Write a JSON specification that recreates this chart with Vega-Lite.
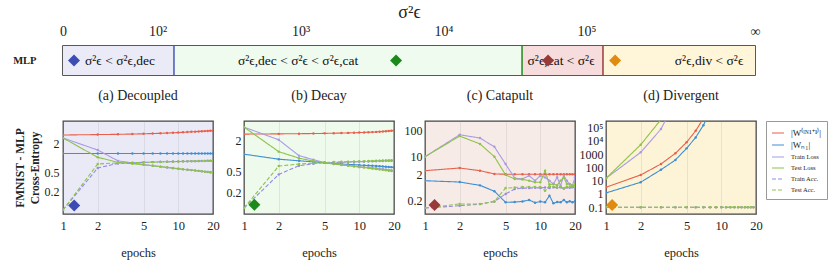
{
  "$schema": "https://vega.github.io/schema/vega-lite/v6.json",
  "padding": {"left": 11, "top": 2, "right": 4, "bottom": 4},
  "background": "white",
  "config": {
    "font": "Liberation Serif",
    "view": {"stroke": null},
    "axis": {"labelFont": "Liberation Serif", "titleFont": "Liberation Serif", "labelColor": "#222", "titleColor": "#222", "domain": false, "ticks": false, "grid": false},
    "title": {"font": "Liberation Serif", "fontWeight": "normal", "fontSize": 14, "color": "#222"},
    "text": {"font": "Liberation Serif"}
  },
  "datasets": {
    "regimes": [
      {"model": "MLP", "regime": "decoupled", "from": 1.339, "to": 2.115, "text_at": 1.738, "marker_at": 1.416, "label": "σ²ϵ < σ²ϵ,dec"},
      {"model": "MLP", "regime": "decay", "from": 2.115, "to": 4.549, "text_at": 2.983, "marker_at": 3.668, "label": "σ²ϵ,dec < σ²ϵ < σ²ϵ,cat"},
      {"model": "MLP", "regime": "catapult", "from": 4.549, "to": 5.115, "text_at": 4.822, "marker_at": 4.731, "label": "σ²ϵ,cat < σ²ϵ"},
      {"model": "MLP", "regime": "divergent", "from": 5.115, "to": 6.178, "text_at": 5.857, "marker_at": 5.2, "label": "σ²ϵ,div < σ²ϵ"}
    ],
    "curves": [
      {"panel":"a","epoch":1,"W_next":3.00,"W_N1":1.23,"train_loss":2.60,"test_loss":2.60,"train_acc":0.08,"test_acc":0.08},
      {"panel":"a","epoch":2,"W_next":3.06,"W_N1":1.23,"train_loss":1.45,"test_loss":1.02,"train_acc":0.61,"test_acc":0.74},
      {"panel":"a","epoch":3,"W_next":3.10,"W_N1":1.23,"train_loss":0.86,"test_loss":0.80,"train_acc":0.76,"test_acc":0.78},
      {"panel":"a","epoch":4,"W_next":3.14,"W_N1":1.23,"train_loss":0.78,"test_loss":0.75,"train_acc":0.78,"test_acc":0.79},
      {"panel":"a","epoch":5,"W_next":3.18,"W_N1":1.23,"train_loss":0.72,"test_loss":0.71,"train_acc":0.80,"test_acc":0.80},
      {"panel":"a","epoch":6,"W_next":3.22,"W_N1":1.23,"train_loss":0.68,"test_loss":0.68,"train_acc":0.81,"test_acc":0.81},
      {"panel":"a","epoch":7,"W_next":3.26,"W_N1":1.23,"train_loss":0.65,"test_loss":0.65,"train_acc":0.82,"test_acc":0.815},
      {"panel":"a","epoch":8,"W_next":3.30,"W_N1":1.23,"train_loss":0.62,"test_loss":0.63,"train_acc":0.825,"test_acc":0.82},
      {"panel":"a","epoch":9,"W_next":3.34,"W_N1":1.23,"train_loss":0.60,"test_loss":0.61,"train_acc":0.83,"test_acc":0.825},
      {"panel":"a","epoch":10,"W_next":3.38,"W_N1":1.23,"train_loss":0.585,"test_loss":0.59,"train_acc":0.835,"test_acc":0.83},
      {"panel":"a","epoch":11,"W_next":3.42,"W_N1":1.23,"train_loss":0.57,"test_loss":0.575,"train_acc":0.84,"test_acc":0.835},
      {"panel":"a","epoch":12,"W_next":3.46,"W_N1":1.23,"train_loss":0.56,"test_loss":0.56,"train_acc":0.845,"test_acc":0.84},
      {"panel":"a","epoch":13,"W_next":3.50,"W_N1":1.23,"train_loss":0.55,"test_loss":0.55,"train_acc":0.85,"test_acc":0.84},
      {"panel":"a","epoch":14,"W_next":3.53,"W_N1":1.23,"train_loss":0.54,"test_loss":0.54,"train_acc":0.85,"test_acc":0.845},
      {"panel":"a","epoch":15,"W_next":3.56,"W_N1":1.23,"train_loss":0.53,"test_loss":0.53,"train_acc":0.855,"test_acc":0.85},
      {"panel":"a","epoch":16,"W_next":3.59,"W_N1":1.23,"train_loss":0.52,"test_loss":0.52,"train_acc":0.86,"test_acc":0.85},
      {"panel":"a","epoch":17,"W_next":3.62,"W_N1":1.23,"train_loss":0.51,"test_loss":0.51,"train_acc":0.86,"test_acc":0.855},
      {"panel":"a","epoch":18,"W_next":3.65,"W_N1":1.23,"train_loss":0.505,"test_loss":0.50,"train_acc":0.865,"test_acc":0.86},
      {"panel":"a","epoch":19,"W_next":3.68,"W_N1":1.23,"train_loss":0.50,"test_loss":0.49,"train_acc":0.865,"test_acc":0.86},
      {"panel":"a","epoch":20,"W_next":3.70,"W_N1":1.23,"train_loss":0.49,"test_loss":0.48,"train_acc":0.87,"test_acc":0.86},
      {"panel":"b","epoch":1,"W_next":2.67,"W_N1":1.09,"train_loss":3.65,"test_loss":3.65,"train_acc":0.098,"test_acc":0.098},
      {"panel":"b","epoch":2,"W_next":2.70,"W_N1":0.87,"train_loss":2.07,"test_loss":1.22,"train_acc":0.44,"test_acc":0.64},
      {"panel":"b","epoch":3,"W_next":2.72,"W_N1":0.81,"train_loss":1.02,"test_loss":0.91,"train_acc":0.65,"test_acc":0.70},
      {"panel":"b","epoch":4,"W_next":2.74,"W_N1":0.77,"train_loss":0.85,"test_loss":0.80,"train_acc":0.71,"test_acc":0.73},
      {"panel":"b","epoch":5,"W_next":2.76,"W_N1":0.74,"train_loss":0.75,"test_loss":0.74,"train_acc":0.74,"test_acc":0.75},
      {"panel":"b","epoch":6,"W_next":2.78,"W_N1":0.72,"train_loss":0.71,"test_loss":0.70,"train_acc":0.75,"test_acc":0.765},
      {"panel":"b","epoch":7,"W_next":2.80,"W_N1":0.70,"train_loss":0.68,"test_loss":0.67,"train_acc":0.76,"test_acc":0.775},
      {"panel":"b","epoch":8,"W_next":2.82,"W_N1":0.69,"train_loss":0.66,"test_loss":0.65,"train_acc":0.765,"test_acc":0.78},
      {"panel":"b","epoch":9,"W_next":2.84,"W_N1":0.68,"train_loss":0.64,"test_loss":0.63,"train_acc":0.77,"test_acc":0.785},
      {"panel":"b","epoch":10,"W_next":2.86,"W_N1":0.67,"train_loss":0.62,"test_loss":0.61,"train_acc":0.775,"test_acc":0.79},
      {"panel":"b","epoch":11,"W_next":2.88,"W_N1":0.66,"train_loss":0.61,"test_loss":0.60,"train_acc":0.78,"test_acc":0.795},
      {"panel":"b","epoch":12,"W_next":2.90,"W_N1":0.655,"train_loss":0.60,"test_loss":0.585,"train_acc":0.785,"test_acc":0.80},
      {"panel":"b","epoch":13,"W_next":2.92,"W_N1":0.65,"train_loss":0.59,"test_loss":0.57,"train_acc":0.79,"test_acc":0.805},
      {"panel":"b","epoch":14,"W_next":2.95,"W_N1":0.64,"train_loss":0.58,"test_loss":0.56,"train_acc":0.795,"test_acc":0.81},
      {"panel":"b","epoch":15,"W_next":2.98,"W_N1":0.635,"train_loss":0.57,"test_loss":0.55,"train_acc":0.80,"test_acc":0.815},
      {"panel":"b","epoch":16,"W_next":3.01,"W_N1":0.63,"train_loss":0.56,"test_loss":0.54,"train_acc":0.805,"test_acc":0.82},
      {"panel":"b","epoch":17,"W_next":3.04,"W_N1":0.62,"train_loss":0.55,"test_loss":0.53,"train_acc":0.81,"test_acc":0.82},
      {"panel":"b","epoch":18,"W_next":3.07,"W_N1":0.615,"train_loss":0.54,"test_loss":0.52,"train_acc":0.81,"test_acc":0.825},
      {"panel":"b","epoch":19,"W_next":3.10,"W_N1":0.61,"train_loss":0.53,"test_loss":0.515,"train_acc":0.815,"test_acc":0.83},
      {"panel":"b","epoch":20,"W_next":3.13,"W_N1":0.60,"train_loss":0.52,"test_loss":0.51,"train_acc":0.82,"test_acc":0.83},
      {"panel":"c","epoch":1,"W_next":2.9,"W_N1":1.19,"train_loss":10,"test_loss":10,"train_acc":0.106,"test_acc":0.106},
      {"panel":"c","epoch":2,"W_next":3.67,"W_N1":1.06,"train_loss":70,"test_loss":62,"train_acc":0.13,"test_acc":0.152},
      {"panel":"c","epoch":3,"W_next":2.9,"W_N1":0.79,"train_loss":52,"test_loss":31,"train_acc":0.15,"test_acc":0.152},
      {"panel":"c","epoch":4,"W_next":2.16,"W_N1":0.47,"train_loss":24,"test_loss":10,"train_acc":0.19,"test_acc":0.19},
      {"panel":"c","epoch":5,"W_next":2.12,"W_N1":0.176,"train_loss":5.2,"test_loss":2.0,"train_acc":0.37,"test_acc":0.62},
      {"panel":"c","epoch":6,"W_next":2.1,"W_N1":0.18,"train_loss":1.5,"test_loss":1.39,"train_acc":0.57,"test_acc":0.65},
      {"panel":"c","epoch":7,"W_next":2.1,"W_N1":0.19,"train_loss":1.4,"test_loss":1.33,"train_acc":0.62,"test_acc":0.68},
      {"panel":"c","epoch":8,"W_next":2.1,"W_N1":0.216,"train_loss":1.86,"test_loss":1.2,"train_acc":0.62,"test_acc":0.68},
      {"panel":"c","epoch":9,"W_next":2.1,"W_N1":0.17,"train_loss":1.2,"test_loss":1.04,"train_acc":0.64,"test_acc":0.68},
      {"panel":"c","epoch":10,"W_next":2.1,"W_N1":0.19,"train_loss":1.86,"test_loss":1.04,"train_acc":0.63,"test_acc":0.68},
      {"panel":"c","epoch":11,"W_next":2.1,"W_N1":0.176,"train_loss":1.6,"test_loss":2.9,"train_acc":0.65,"test_acc":0.49},
      {"panel":"c","epoch":12,"W_next":2.1,"W_N1":0.316,"train_loss":1.2,"test_loss":0.85,"train_acc":0.62,"test_acc":0.72},
      {"panel":"c","epoch":13,"W_next":2.1,"W_N1":0.161,"train_loss":0.89,"test_loss":0.89,"train_acc":0.66,"test_acc":0.70},
      {"panel":"c","epoch":14,"W_next":2.1,"W_N1":0.18,"train_loss":1.61,"test_loss":0.80,"train_acc":0.64,"test_acc":0.66},
      {"panel":"c","epoch":15,"W_next":2.1,"W_N1":0.176,"train_loss":0.77,"test_loss":1.2,"train_acc":0.66,"test_acc":0.70},
      {"panel":"c","epoch":16,"W_next":2.1,"W_N1":0.216,"train_loss":1.86,"test_loss":1.6,"train_acc":0.60,"test_acc":0.60},
      {"panel":"c","epoch":17,"W_next":2.1,"W_N1":0.176,"train_loss":1.19,"test_loss":0.89,"train_acc":0.66,"test_acc":0.70},
      {"panel":"c","epoch":18,"W_next":2.1,"W_N1":0.193,"train_loss":0.85,"test_loss":0.89,"train_acc":0.64,"test_acc":0.68},
      {"panel":"c","epoch":19,"W_next":2.1,"W_N1":0.176,"train_loss":0.77,"test_loss":0.77,"train_acc":0.66,"test_acc":0.70},
      {"panel":"c","epoch":20,"W_next":2.1,"W_N1":0.193,"train_loss":1.61,"test_loss":0.85,"train_acc":0.65,"test_acc":0.68},
      {"panel":"d","epoch":1,"W_next":3.2,"W_N1":1.19,"train_loss":15,"test_loss":15,"train_acc":0.1,"test_acc":0.1},
      {"panel":"d","epoch":2,"W_next":27,"W_N1":7.6,"train_loss":1360,"test_loss":5100,"train_acc":0.1,"test_acc":0.1},
      {"panel":"d","epoch":3,"W_next":180,"W_N1":67,"train_loss":77000,"test_loss":400000,"train_acc":0.1,"test_acc":0.1},
      {"panel":"d","epoch":4,"W_next":1150,"W_N1":360,"train_loss":10000000,"test_loss":null,"train_acc":0.1,"test_acc":0.1},
      {"panel":"d","epoch":5,"W_next":7800,"W_N1":2700,"train_loss":null,"test_loss":null,"train_acc":0.1,"test_acc":0.1},
      {"panel":"d","epoch":6,"W_next":57000,"W_N1":18000,"train_loss":null,"test_loss":null,"train_acc":0.1,"test_acc":0.1},
      {"panel":"d","epoch":7,"W_next":500000,"W_N1":150000,"train_loss":null,"test_loss":null,"train_acc":0.1,"test_acc":0.1},
      {"panel":"d","epoch":8,"W_next":null,"W_N1":1500000,"train_loss":null,"test_loss":null,"train_acc":0.1,"test_acc":0.1},
      {"panel":"d","epoch":9,"W_next":null,"W_N1":null,"train_loss":null,"test_loss":null,"train_acc":0.1,"test_acc":0.1},
      {"panel":"d","epoch":10,"W_next":null,"W_N1":null,"train_loss":null,"test_loss":null,"train_acc":0.1,"test_acc":0.1},
      {"panel":"d","epoch":11,"W_next":null,"W_N1":null,"train_loss":null,"test_loss":null,"train_acc":0.1,"test_acc":0.1},
      {"panel":"d","epoch":12,"W_next":null,"W_N1":null,"train_loss":null,"test_loss":null,"train_acc":0.1,"test_acc":0.1},
      {"panel":"d","epoch":13,"W_next":null,"W_N1":null,"train_loss":null,"test_loss":null,"train_acc":0.1,"test_acc":0.1},
      {"panel":"d","epoch":14,"W_next":null,"W_N1":null,"train_loss":null,"test_loss":null,"train_acc":0.1,"test_acc":0.1},
      {"panel":"d","epoch":15,"W_next":null,"W_N1":null,"train_loss":null,"test_loss":null,"train_acc":0.1,"test_acc":0.1},
      {"panel":"d","epoch":16,"W_next":null,"W_N1":null,"train_loss":null,"test_loss":null,"train_acc":0.1,"test_acc":0.1},
      {"panel":"d","epoch":17,"W_next":null,"W_N1":null,"train_loss":null,"test_loss":null,"train_acc":0.1,"test_acc":0.1},
      {"panel":"d","epoch":18,"W_next":null,"W_N1":null,"train_loss":null,"test_loss":null,"train_acc":0.1,"test_acc":0.1},
      {"panel":"d","epoch":19,"W_next":null,"W_N1":null,"train_loss":null,"test_loss":null,"train_acc":0.1,"test_acc":0.1},
      {"panel":"d","epoch":20,"W_next":null,"W_N1":null,"train_loss":null,"test_loss":null,"train_acc":0.1,"test_acc":0.1}
    ],
    "markers": [
      {"panel": "a", "epoch": 1.25, "value": 0.10},
      {"panel": "b", "epoch": 1.23, "value": 0.113},
      {"panel": "c", "epoch": 1.21, "value": 0.139},
      {"panel": "d", "epoch": 1.13, "value": 0.149}
    ]
  },
  "spacing": 46,
  "bounds": "flush",
  "resolve": {"scale": {"color": "independent", "x": "independent", "y": "independent", "strokeDash": "independent", "stroke": "independent", "fill": "independent"}},
  "vconcat": [
    {
      "width": 692,
      "height": 29,
      "data": {"name": "regimes"},
      "view": {"stroke": "#222", "strokeWidth": 1.5},
      "layer": [
        {
          "mark": {"type": "rect"},
          "encoding": {
            "x": {"field": "from", "type": "quantitative", "scale": {"domain": [1.339, 6.178], "nice": false, "zero": false},
              "axis": {"orient": "top", "values": [1.339, 2, 3, 4, 5, 6.178], "labelExpr": "datum.value < 1.5 ? '0' : datum.value > 6 ? '∞' : datum.value == 2 ? '10²' : datum.value == 3 ? '10³' : datum.value == 4 ? '10⁴' : '10⁵'", "labelFontSize": 14, "labelPadding": 8, "labelFlush": false, "labelOverlap": false, "title": "σ²ϵ", "titleFontSize": 18, "titleFontWeight": "normal", "titlePadding": 3}},
            "x2": {"field": "to"},
            "y": {"field": "model", "type": "nominal", "scale": {"paddingInner": 0, "paddingOuter": 0}, "axis": {"title": null, "labelFontWeight": "bold", "labelFontSize": 10.5, "labelPadding": 27}},
            "fill": {"field": "regime", "type": "nominal", "scale": {"domain": ["decoupled", "decay", "catapult", "divergent"], "range": ["#ebebf8", "#effbef", "#f6dcdc", "#fff6da"]}, "legend": null}
          }
        },
        {
          "transform": [{"filter": "datum.regime != 'divergent'"}],
          "mark": {"type": "rule", "strokeWidth": 1.5},
          "encoding": {
            "x": {"field": "to", "type": "quantitative"},
            "stroke": {"field": "regime", "type": "nominal", "scale": {"domain": ["decoupled", "decay", "catapult", "divergent"], "range": ["#4656b8", "#1e8c1e", "#9a3c3c", "#e08a12"]}, "legend": null}
          }
        },
        {
          "mark": {"type": "text", "fontSize": 13.5, "color": "#111"},
          "encoding": {
            "x": {"field": "text_at", "type": "quantitative"},
            "y": {"field": "model", "type": "nominal", "scale": {"paddingInner": 0, "paddingOuter": 0}, "axis": {"title": null, "labelFontWeight": "bold", "labelFontSize": 10.5, "labelPadding": 27}},
            "text": {"field": "label"}
          }
        },
        {
          "mark": {"type": "point", "shape": "diamond", "filled": true, "size": 144, "opacity": 1},
          "encoding": {
            "x": {"field": "marker_at", "type": "quantitative"},
            "y": {"field": "model", "type": "nominal", "scale": {"paddingInner": 0, "paddingOuter": 0}, "axis": {"title": null, "labelFontWeight": "bold", "labelFontSize": 10.5, "labelPadding": 27}},
            "color": {"field": "regime", "type": "nominal", "scale": {"domain": ["decoupled", "decay", "catapult", "divergent"], "range": ["#3c4cb2", "#1a8a1a", "#963a3a", "#e08a12"]}, "legend": null}
          }
        }
      ]
    },
    {
      "spacing": 31,
      "bounds": "flush",
      "resolve": {"scale": {"x": "independent", "y": "independent", "color": "independent", "strokeDash": "independent", "fill": "independent"}},
      "hconcat": [
        {
          "width": 150, "height": 93,
          "title": {"text": "(a) Decoupled", "offset": 18},
          "view": {"fill": "#eaeaf7", "stroke": "#444", "strokeWidth": 1.3},
          "encoding": {
            "x": {"field": "epoch", "type": "quantitative", "scale": {"type": "log", "domain": [1, 20], "nice": false}, "axis": {"values": [1, 2, 5, 10, 20], "title": "epochs", "labelFontSize": 12.5, "titleFontSize": 12.5, "titleFontWeight": "normal", "labelPadding": 5, "titlePadding": 15, "labelFlush": false, "grid": true, "gridColor": "#999", "gridOpacity": 0.2}},
            "y": {"field": "value", "type": "quantitative", "scale": {"type": "log", "domain": [0.066, 5.9], "nice": false}, "axis": {"values": [0.2, 0.5, 2], "labelFontSize": 12, "labelPadding": 4, "title": ["FMNIST - MLP", "Cross-Entropy"], "titleFontWeight": "bold", "titleFontSize": 11.5, "titlePadding": 4, "titleLineHeight": 15}}
          },
          "layer": [
            {
              "data": {"name": "curves"},
              "transform": [{"filter": "datum.panel == 'a'"}, {"fold": ["W_next", "W_N1", "train_loss", "test_loss", "train_acc", "test_acc"], "as": ["series", "value"]}],
              "mark": {"type": "line", "strokeWidth": 1.1, "clip": true},
              "encoding": {
                "color": {"field": "series", "type": "nominal", "scale": {"domain": ["W_next", "W_N1", "train_loss", "test_loss", "train_acc", "test_acc"], "range": ["#e8604c", "#3f8fd2", "#a99be6", "#8fc24a", "#958ae6", "#8fc24a"]}, "legend": null},
                "strokeDash": {"field": "series", "type": "nominal", "scale": {"domain": ["W_next", "W_N1", "train_loss", "test_loss", "train_acc", "test_acc"], "range": [[1, 0], [1, 0], [1, 0], [1, 0], [4, 2], [4, 2]]}, "legend": null}
              }
            },
            {
              "data": {"name": "curves"},
              "transform": [{"filter": "datum.panel == 'a'"}, {"fold": ["W_next", "W_N1", "train_loss", "test_loss", "train_acc", "test_acc"], "as": ["series", "value"]}],
              "mark": {"type": "circle", "size": 6, "opacity": 1, "clip": true},
              "encoding": {
                "fill": {"field": "series", "type": "nominal", "scale": {"domain": ["W_next", "W_N1", "train_loss", "test_loss", "train_acc", "test_acc"], "range": ["#e8604c", "#3f8fd2", "#a99be6", "#8fc24a", "#958ae6", "#8fc24a"]}, "legend": null}
              }
            },
            {
              "data": {"name": "markers"},
              "transform": [{"filter": "datum.panel == 'a'"}],
              "mark": {"type": "point", "shape": "diamond", "filled": true, "size": 144, "opacity": 1, "color": "#3c4cb2"}
            }
          ]
        },
        {
          "width": 150, "height": 93,
          "title": {"text": "(b) Decay", "offset": 18},
          "view": {"fill": "#eefaeb", "stroke": "#444", "strokeWidth": 1.3},
          "encoding": {
            "x": {"field": "epoch", "type": "quantitative", "scale": {"type": "log", "domain": [1, 20], "nice": false}, "axis": {"values": [1, 2, 5, 10, 20], "title": "epochs", "labelFontSize": 12.5, "titleFontSize": 12.5, "titleFontWeight": "normal", "labelPadding": 5, "titlePadding": 15, "labelFlush": false, "grid": true, "gridColor": "#999", "gridOpacity": 0.2}},
            "y": {"field": "value", "type": "quantitative", "scale": {"type": "log", "domain": [0.075, 4.8], "nice": false}, "axis": {"values": [0.2, 0.5, 2], "labelFontSize": 12, "labelPadding": 3, "title": null}}
          },
          "layer": [
            {
              "data": {"name": "curves"},
              "transform": [{"filter": "datum.panel == 'b'"}, {"fold": ["W_next", "W_N1", "train_loss", "test_loss", "train_acc", "test_acc"], "as": ["series", "value"]}],
              "mark": {"type": "line", "strokeWidth": 1.1, "clip": true},
              "encoding": {
                "color": {"field": "series", "type": "nominal", "scale": {"domain": ["W_next", "W_N1", "train_loss", "test_loss", "train_acc", "test_acc"], "range": ["#e8604c", "#3f8fd2", "#a99be6", "#8fc24a", "#958ae6", "#8fc24a"]}, "legend": null},
                "strokeDash": {"field": "series", "type": "nominal", "scale": {"domain": ["W_next", "W_N1", "train_loss", "test_loss", "train_acc", "test_acc"], "range": [[1, 0], [1, 0], [1, 0], [1, 0], [4, 2], [4, 2]]}, "legend": null}
              }
            },
            {
              "data": {"name": "curves"},
              "transform": [{"filter": "datum.panel == 'b'"}, {"fold": ["W_next", "W_N1", "train_loss", "test_loss", "train_acc", "test_acc"], "as": ["series", "value"]}],
              "mark": {"type": "circle", "size": 6, "opacity": 1, "clip": true},
              "encoding": {
                "fill": {"field": "series", "type": "nominal", "scale": {"domain": ["W_next", "W_N1", "train_loss", "test_loss", "train_acc", "test_acc"], "range": ["#e8604c", "#3f8fd2", "#a99be6", "#8fc24a", "#958ae6", "#8fc24a"]}, "legend": null}
              }
            },
            {
              "data": {"name": "markers"},
              "transform": [{"filter": "datum.panel == 'b'"}],
              "mark": {"type": "point", "shape": "diamond", "filled": true, "size": 144, "opacity": 1, "color": "#1a8a1a"}
            }
          ]
        },
        {
          "width": 150, "height": 93,
          "title": {"text": "(c) Catapult", "offset": 18},
          "view": {"fill": "#f7ebe8", "stroke": "#444", "strokeWidth": 1.3},
          "encoding": {
            "x": {"field": "epoch", "type": "quantitative", "scale": {"type": "log", "domain": [1, 20], "nice": false}, "axis": {"values": [1, 2, 5, 10, 20], "title": "epochs", "labelFontSize": 12.5, "titleFontSize": 12.5, "titleFontWeight": "normal", "labelPadding": 5, "titlePadding": 15, "labelFlush": false, "grid": true, "gridColor": "#999", "gridOpacity": 0.2}},
            "y": {"field": "value", "type": "quantitative", "scale": {"type": "log", "domain": [0.0625, 236], "nice": false}, "axis": {"values": [0.2, 0.5, 2, 10, 100], "labelFontSize": 12, "labelPadding": 3, "title": null}}
          },
          "layer": [
            {
              "data": {"name": "curves"},
              "transform": [{"filter": "datum.panel == 'c'"}, {"fold": ["W_next", "W_N1", "train_loss", "test_loss", "train_acc", "test_acc"], "as": ["series", "value"]}],
              "mark": {"type": "line", "strokeWidth": 1.1, "clip": true},
              "encoding": {
                "color": {"field": "series", "type": "nominal", "scale": {"domain": ["W_next", "W_N1", "train_loss", "test_loss", "train_acc", "test_acc"], "range": ["#e8604c", "#3f8fd2", "#a99be6", "#8fc24a", "#958ae6", "#8fc24a"]}, "legend": null},
                "strokeDash": {"field": "series", "type": "nominal", "scale": {"domain": ["W_next", "W_N1", "train_loss", "test_loss", "train_acc", "test_acc"], "range": [[1, 0], [1, 0], [1, 0], [1, 0], [4, 2], [4, 2]]}, "legend": null}
              }
            },
            {
              "data": {"name": "curves"},
              "transform": [{"filter": "datum.panel == 'c'"}, {"fold": ["W_next", "W_N1", "train_loss", "test_loss", "train_acc", "test_acc"], "as": ["series", "value"]}],
              "mark": {"type": "circle", "size": 6, "opacity": 1, "clip": true},
              "encoding": {
                "fill": {"field": "series", "type": "nominal", "scale": {"domain": ["W_next", "W_N1", "train_loss", "test_loss", "train_acc", "test_acc"], "range": ["#e8604c", "#3f8fd2", "#a99be6", "#8fc24a", "#958ae6", "#8fc24a"]}, "legend": null}
              }
            },
            {
              "data": {"name": "markers"},
              "transform": [{"filter": "datum.panel == 'c'"}],
              "mark": {"type": "point", "shape": "diamond", "filled": true, "size": 144, "opacity": 1, "color": "#963a3a"}
            }
          ]
        },
        {
          "width": 150, "height": 93,
          "title": {"text": "(d) Divergent", "offset": 18},
          "view": {"fill": "#fdf3d6", "stroke": "#444", "strokeWidth": 1.3},
          "encoding": {
            "x": {"field": "epoch", "type": "quantitative", "scale": {"type": "log", "domain": [1, 20], "nice": false}, "axis": {"values": [1, 2, 5, 10, 20], "title": "epochs", "labelFontSize": 12.5, "titleFontSize": 12.5, "titleFontWeight": "normal", "labelPadding": 5, "titlePadding": 15, "labelFlush": false, "grid": true, "gridColor": "#999", "gridOpacity": 0.2}},
            "y": {"field": "value", "type": "quantitative", "scale": {"type": "log", "domain": [0.031, 310000], "nice": false}, "axis": {"values": [0.1, 1, 10, 100, 1000, 10000, 100000], "labelExpr": "datum.value == 10000 ? '10⁴' : datum.value == 100000 ? '10⁵' : datum.value == 1000 ? '1000' : datum.label", "labelFontSize": 12, "labelPadding": 3, "title": null}}
          },
          "layer": [
            {
              "data": {"name": "curves"},
              "transform": [{"filter": "datum.panel == 'd'"}, {"fold": ["W_next", "W_N1", "train_loss", "test_loss", "train_acc", "test_acc"], "as": ["series", "value"]}],
              "mark": {"type": "line", "strokeWidth": 1.1, "clip": true},
              "encoding": {
                "color": {"field": "series", "type": "nominal", "scale": {"domain": ["W_next", "W_N1", "train_loss", "test_loss", "train_acc", "test_acc"], "range": ["#e8604c", "#3f8fd2", "#a99be6", "#8fc24a", "#958ae6", "#8fc24a"]},
                  "legend": {"title": null, "orient": "right", "offset": 10, "symbolType": "stroke", "symbolSize": 144, "symbolStrokeWidth": 1.1, "labelFont": "Liberation Serif", "labelFontSize": 6.5, "labelColor": "#222", "labelOffset": 6, "padding": 5, "rowPadding": 0, "strokeColor": "#999", "fillColor": "white", "labelExpr": "datum.label == 'W_next' ? '|W⁽ˡᴺ¹⁺¹⁾|' : datum.label == 'W_N1' ? '|Wₙ₁|' : datum.label == 'train_loss' ? 'Train Loss' : datum.label == 'test_loss' ? 'Test Loss' : datum.label == 'train_acc' ? 'Train Acc.' : 'Test Acc.'", "encode": {"labels": {"update": {"fontSize": {"signal": "datum.value == 'W_next' || datum.value == 'W_N1' ? 9 : 6.5"}}}}}},
                "strokeDash": {"field": "series", "type": "nominal", "scale": {"domain": ["W_next", "W_N1", "train_loss", "test_loss", "train_acc", "test_acc"], "range": [[1, 0], [1, 0], [1, 0], [1, 0], [4, 2], [4, 2]]},
                  "legend": {"title": null, "orient": "right", "offset": 10, "symbolType": "stroke", "symbolSize": 144, "symbolStrokeWidth": 1.1, "labelFont": "Liberation Serif", "labelFontSize": 6.5, "labelColor": "#222", "labelOffset": 6, "padding": 5, "rowPadding": 0, "strokeColor": "#999", "fillColor": "white", "labelExpr": "datum.label == 'W_next' ? '|W⁽ˡᴺ¹⁺¹⁾|' : datum.label == 'W_N1' ? '|Wₙ₁|' : datum.label == 'train_loss' ? 'Train Loss' : datum.label == 'test_loss' ? 'Test Loss' : datum.label == 'train_acc' ? 'Train Acc.' : 'Test Acc.'", "encode": {"labels": {"update": {"fontSize": {"signal": "datum.value == 'W_next' || datum.value == 'W_N1' ? 9 : 6.5"}}}}}}
              }
            },
            {
              "data": {"name": "curves"},
              "transform": [{"filter": "datum.panel == 'd'"}, {"fold": ["W_next", "W_N1", "train_loss", "test_loss", "train_acc", "test_acc"], "as": ["series", "value"]}],
              "mark": {"type": "circle", "size": 6, "opacity": 1, "clip": true},
              "encoding": {
                "fill": {"field": "series", "type": "nominal", "scale": {"domain": ["W_next", "W_N1", "train_loss", "test_loss", "train_acc", "test_acc"], "range": ["#e8604c", "#3f8fd2", "#a99be6", "#8fc24a", "#958ae6", "#8fc24a"]}, "legend": null}
              }
            },
            {
              "data": {"name": "markers"},
              "transform": [{"filter": "datum.panel == 'd'"}],
              "mark": {"type": "point", "shape": "diamond", "filled": true, "size": 144, "opacity": 1, "color": "#e08a12"}
            }
          ]
        }
      ]
    }
  ]
}
